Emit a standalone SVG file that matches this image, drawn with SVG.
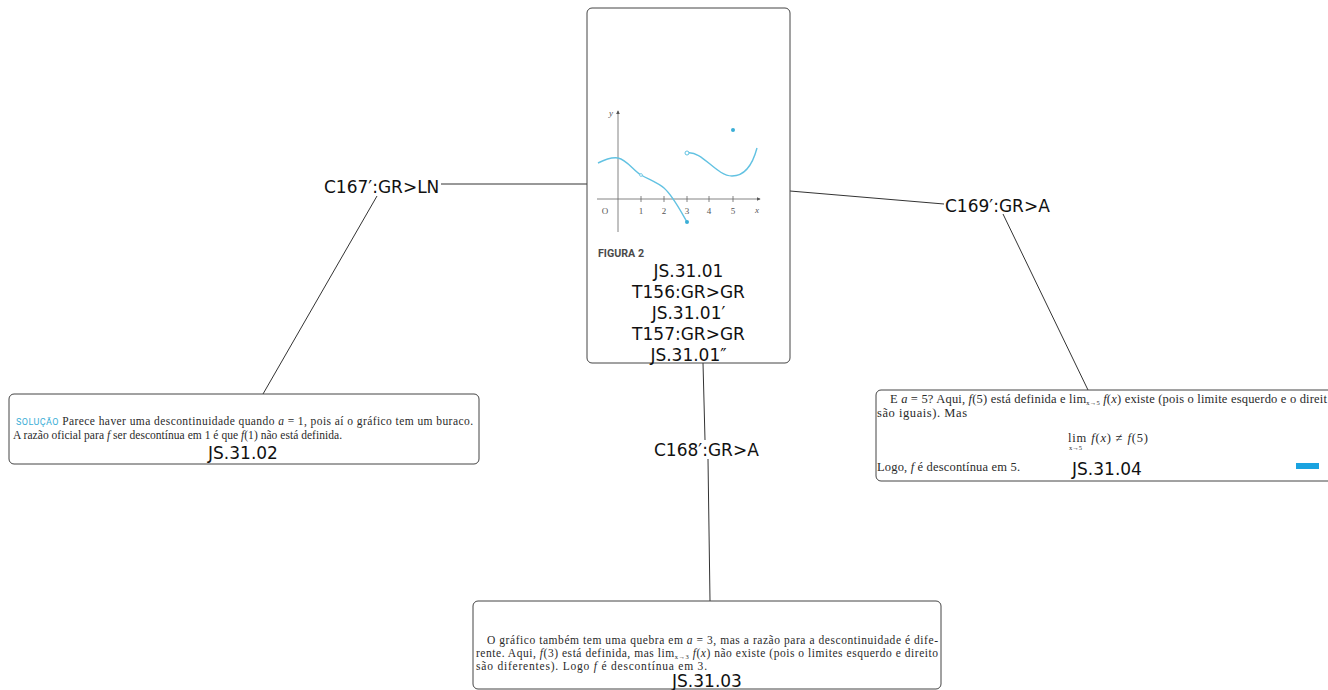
<svg xmlns="http://www.w3.org/2000/svg" width="1328" height="690" viewBox="0 0 1328 690">
  <style>
    .box { fill: #ffffff; stroke: #444444; stroke-width: 1; }
    .id { font-family: "DejaVu Sans", Verdana, sans-serif; font-size: 17px; fill: #111111; text-anchor: middle; }
    .lbl { font-family: "DejaVu Sans", Verdana, sans-serif; font-size: 17px; fill: #111111; }
    .edge { stroke: #333333; stroke-width: 1; fill: none; }
    .src { font-family: "Liberation Serif", "Times New Roman", serif; font-size: 11.5px; fill: #2a2a2a; }
    .big { font-size: 12.5px; }
    .it { font-style: italic; }
    .sub { font-size: 6.5px; }
    .axis { stroke: #666666; stroke-width: 0.8; fill: none; }
    .curve { stroke: #62c2e2; stroke-width: 1.4; fill: none; }
    .tick { font-family: "Liberation Serif", "Times New Roman", serif; font-size: 9px; fill: #555555; text-anchor: middle; }
  </style>
  <defs>
    <marker id="axhead" viewBox="0 0 6 6" refX="5" refY="3" markerWidth="5" markerHeight="5" orient="auto">
      <path d="M0,0 L6,3 L0,6 z" fill="#555555"/>
    </marker>
  </defs>

  <rect width="1328" height="690" fill="#ffffff"/>

  <!-- connectors -->
  <g id="connectors">
    <line class="edge" x1="441" y1="184" x2="587" y2="184"/>
    <line class="edge" x1="377" y1="196" x2="263" y2="394"/>
    <line class="edge" x1="790" y1="191" x2="944" y2="204"/>
    <line class="edge" x1="1003" y1="214" x2="1088" y2="390"/>
    <line class="edge" x1="703" y1="363" x2="705" y2="440"/>
    <line class="edge" x1="708" y1="459" x2="710" y2="601"/>
  </g>

  <!-- edge labels -->
  <g id="label-c167">
    <text class="lbl" x="324" y="193">C167′:GR&gt;LN</text>
  </g>
  <g id="label-c169">
    <text class="lbl" x="945" y="212">C169′:GR&gt;A</text>
  </g>
  <g id="label-c168">
    <text class="lbl" x="654" y="456">C168′:GR&gt;A</text>
  </g>

  <!-- central node with the graph -->
  <g id="node-js3101">
    <rect class="box" x="587" y="8" width="203" height="355" rx="5"/>
    <!-- axes -->
    <line class="axis" x1="618" y1="232" x2="618" y2="111" marker-end="url(#axhead)"/>
    <line class="axis" x1="597" y1="199" x2="760" y2="199" marker-end="url(#axhead)"/>
    <g class="axis">
      <line x1="641" y1="196" x2="641" y2="202"/>
      <line x1="664" y1="196" x2="664" y2="202"/>
      <line x1="687" y1="196" x2="687" y2="202"/>
      <line x1="709" y1="196" x2="709" y2="202"/>
      <line x1="733" y1="196" x2="733" y2="202"/>
    </g>
    <text class="tick it" x="611" y="116">y</text>
    <text class="tick it" x="757" y="213">x</text>
    <text class="tick" x="605" y="214">O</text>
    <text class="tick" x="641" y="214">1</text>
    <text class="tick" x="664" y="214">2</text>
    <text class="tick" x="687" y="214">3</text>
    <text class="tick" x="709" y="214">4</text>
    <text class="tick" x="733" y="214">5</text>
    <!-- curves -->
    <path class="curve" d="M598,163 C606,159 612,157 618,158 C627,160 633,170 641,175 C650,180 658,183 664,188 C673,196 680,210 687,222"/>
    <path class="curve" d="M687,153 C702,150 716,176 732,176 C746,176 753,163 757,148"/>
    <circle cx="641" cy="175" r="1.4" fill="#ffffff" stroke="#62c2e2" stroke-width="0.8"/>
    <circle cx="687" cy="153" r="2" fill="#ffffff" stroke="#62c2e2" stroke-width="1"/>
    <circle cx="687" cy="222" r="2" fill="#3aaed6"/>
    <circle cx="733" cy="130" r="2" fill="#3aaed6"/>
    <text x="598" y="257" font-family="Roboto, 'DejaVu Sans', sans-serif" font-size="10" font-weight="bold" fill="#4a4a4a" textLength="46" lengthAdjust="spacingAndGlyphs">FIGURA 2</text>
    <text class="id" x="688.5" y="277">JS.31.01</text>
    <text class="id" x="688.5" y="298">T156:GR&gt;GR</text>
    <text class="id" x="688.5" y="319">JS.31.01′</text>
    <text class="id" x="688.5" y="340">T157:GR&gt;GR</text>
    <text class="id" x="688.5" y="361">JS.31.01″</text>
  </g>

  <!-- left node -->
  <g id="node-js3102">
    <rect class="box" x="9" y="394" width="470" height="70" rx="5"/>
    <text class="src" x="16" y="425" textLength="457" lengthAdjust="spacing"><tspan font-family="Roboto, 'DejaVu Sans', sans-serif" font-size="9" fill="#3aaed6">SOLUÇÃO</tspan> Parece haver uma descontinuidade quando <tspan class="it">a</tspan> = 1, pois aí o gráfico tem um buraco.</text>
    <text class="src" x="13" y="439" textLength="329" lengthAdjust="spacing">A razão oficial para <tspan class="it">f</tspan> ser descontínua em 1 é que <tspan class="it">f</tspan>(1) não está definida.</text>
    <text class="id" x="243" y="459">JS.31.02</text>
  </g>

  <!-- bottom node -->
  <g id="node-js3103">
    <rect class="box" x="473" y="601" width="468" height="88" rx="5"/>
    <text class="src" x="487" y="644" textLength="451" lengthAdjust="spacing">O gráfico também tem uma quebra em <tspan class="it">a</tspan> = 3, mas a razão para a descontinuidade é dife-</text>
    <text class="src" x="476" y="657" textLength="462" lengthAdjust="spacing">rente. Aqui, <tspan class="it">f</tspan>(3) está definida, mas lim<tspan class="sub" dy="2">x→3</tspan><tspan dy="-2"> </tspan><tspan class="it">f</tspan>(<tspan class="it">x</tspan>) não existe (pois o limites esquerdo e direito</text>
    <text class="src" x="476" y="670" textLength="231" lengthAdjust="spacing">são diferentes). Logo <tspan class="it">f</tspan> é descontínua em 3.</text>
    <text class="id" x="707" y="687">JS.31.03</text>
  </g>

  <!-- right node -->
  <g id="node-js3104">
    <rect class="box" x="876" y="390" width="465" height="91" rx="5"/>
    <text class="src big" x="890" y="403" textLength="437" lengthAdjust="spacing">E <tspan class="it">a</tspan> = 5? Aqui, <tspan class="it">f</tspan>(5) está definida e lim<tspan class="sub" dy="2">x→5</tspan><tspan dy="-2"> </tspan><tspan class="it">f</tspan>(<tspan class="it">x</tspan>) existe (pois o limite esquerdo e o direit</text>
    <text class="src big" x="877" y="417" textLength="90" lengthAdjust="spacing">são iguais). Mas</text>
    <text class="src big" x="1068" y="442" textLength="80" lengthAdjust="spacing">lim <tspan class="it">f</tspan>(<tspan class="it">x</tspan>) ≠ <tspan class="it">f</tspan>(5)</text>
    <text class="src sub" x="1069" y="450">x→5</text>
    <text class="src big" x="877" y="471" textLength="143" lengthAdjust="spacing">Logo, <tspan class="it">f</tspan> é descontínua em 5.</text>
    <text class="id" x="1107" y="475">JS.31.04</text>
    <rect x="1296" y="463" width="23" height="6" fill="#1aa3e0"/>
  </g>
</svg>
